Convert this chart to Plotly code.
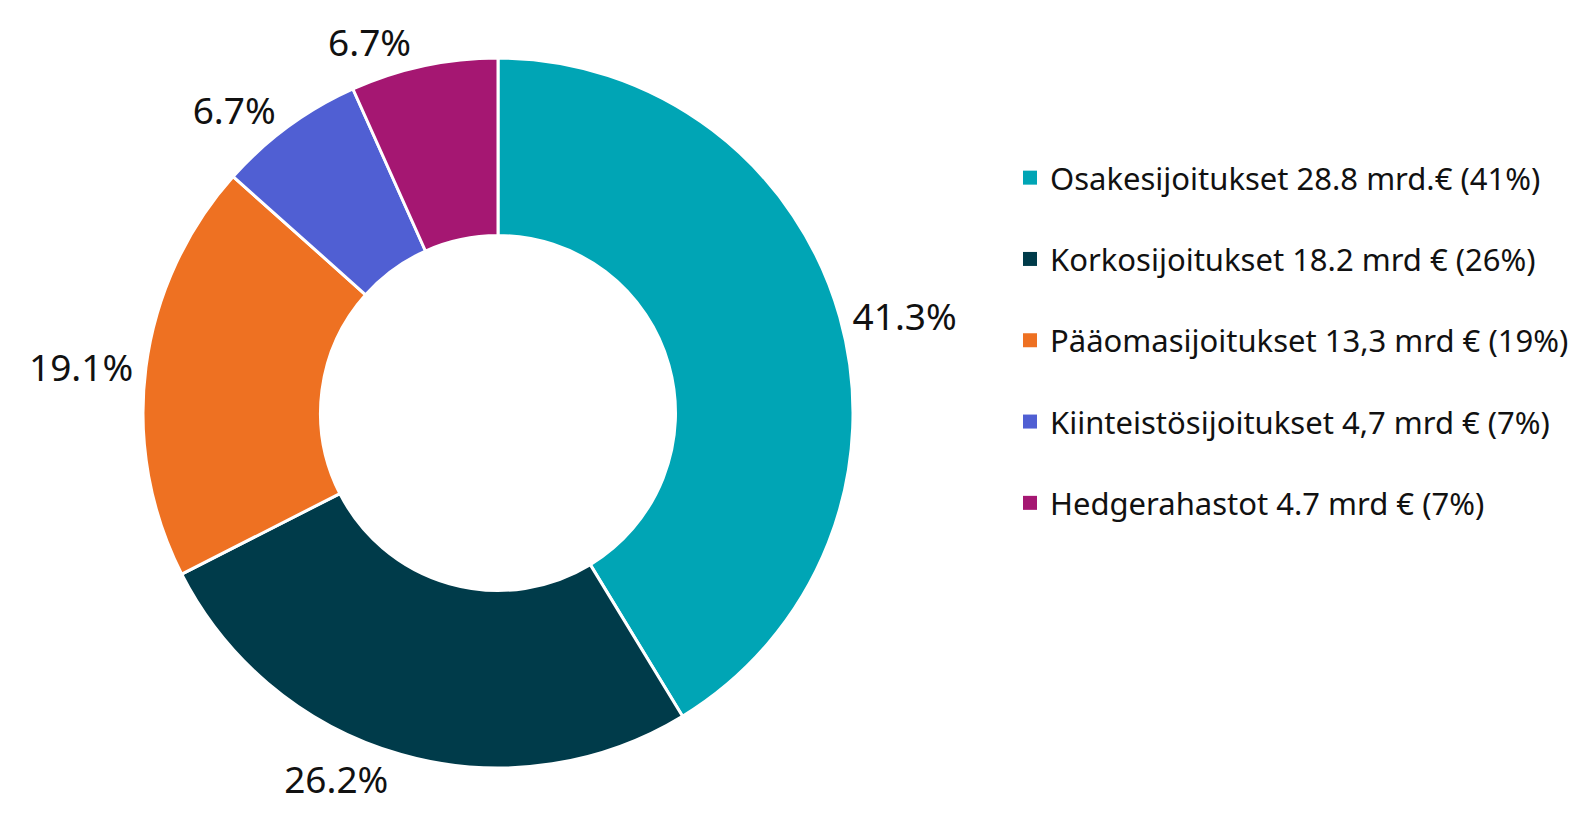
import plotly.graph_objects as go

categories = [
    "Osakesijoitukset 28.8 mrd.€ (41%)",
    "Korkosijoitukset 18.2 mrd € (26%)",
    "Pääomasijoitukset 13,3 mrd € (19%)",
    "Kiinteistösijoitukset 4,7 mrd € (7%)",
    "Hedgerahastot 4.7 mrd € (7%)",
]
shares = [41.3, 26.2, 19.1, 6.7, 6.7]
colors = ["#00A5B5", "#003B4A", "#EE7122", "#505FD3", "#A51772"]

FONT = "Noto Sans"
W, H = 1581, 832
cx, cy, r = 490, 405, 355

fig = go.Figure()
fig.add_trace(go.Pie(
    values=shares,
    labels=categories,
    sort=False,
    direction="clockwise",
    rotation=0,
    hole=0.5,
    marker=dict(colors=colors, line=dict(color="white", width=3)),
    texttemplate="%{value:.1f}%",
    textposition="outside",
    textfont=dict(family=FONT, size=37, color="#111111"),
    showlegend=False,
    hoverinfo="label+percent",
    domain=dict(x=[(cx - r) / W, (cx + r) / W], y=[(H - cy - r) / H, (H - cy + r) / H]),
))

for i, (cat, col) in enumerate(zip(categories, colors)):
    fig.add_trace(go.Scatter(
        x=[None], y=[None], mode="markers", name=cat,
        marker=dict(symbol="square", size=14, color=col),
        legendgroup=f"g{i}", showlegend=True,
    ))

fig.update_layout(
    width=W, height=H,
    margin=dict(l=0, r=0, t=0, b=0),
    paper_bgcolor="white", plot_bgcolor="white",
    xaxis=dict(visible=False), yaxis=dict(visible=False),
    legend=dict(
        x=1002 / W, y=1 - 143 / H, xanchor="left", yanchor="top",
        font=dict(family=FONT, size=31, color="#111111"),
        tracegroupgap=38, itemsizing="trace", itemwidth=30,
        bgcolor="rgba(0,0,0,0)",
    ),
    font=dict(family=FONT),
)

fig.write_html("out.html")
